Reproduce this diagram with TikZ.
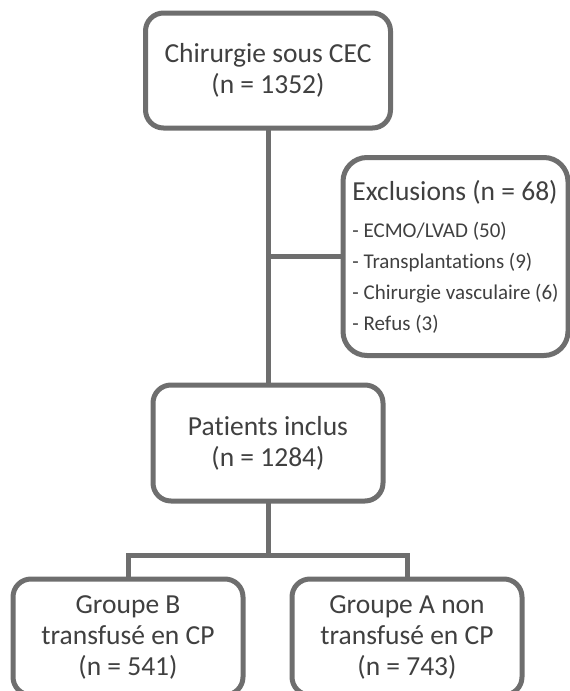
\documentclass[tikz,border=0pt]{standalone}
\usepackage{fontspec}
\setmainfont[Ligatures=NoCommon]{Carlito}
\usepackage{tikz}
\usetikzlibrary{calc,positioning}
\definecolor{bordgris}{HTML}{6E6E6E}
\definecolor{textgris}{HTML}{404040}

\begin{document}
\begin{tikzpicture}[every node/.style={font=\fontsize{27.5}{31}\selectfont,text=textgris}]
  \tikzset{box/.style={draw=bordgris,line width=5pt,rounded corners=18pt,fill=white,
                       outer sep=0pt,align=center,minimum width=230pt,minimum height=116pt},
           exbox/.style={box,rounded corners=24pt,align=left,minimum width=225pt,minimum height=198pt},
           link/.style={draw=bordgris,line width=5pt}}
  \useasboundingbox (0,0) rectangle (570pt,-691pt);
  \node[box,minimum width=245pt,minimum height=115pt] (cec) at (268pt,-70.5pt) {Chirurgie sous CEC\\(n = 1352)};
  \node[box,below=257pt of cec] (incl) {Patients inclus\\(n = 1284)};
  \coordinate (br) at ($(cec.south)!0.5!(incl.north)$);
  \node[exbox,right=75pt of br] (excl) {{\fontsize{27.5}{30}\selectfont Exclusions (n = 68)}\\[6pt]
    \fontsize{21}{32}\selectfont - ECMO/LVAD (50)\\
    \fontsize{21}{32}\selectfont - Transplantations (9)\\
    \fontsize{21}{32}\selectfont - Chirurgie vasculaire (6)\\
    \fontsize{21}{32}\selectfont - Refus (3)};
  \node[box,below=78pt of incl,xshift=-140pt] (grpB) {Groupe B\\transfusé en CP\\(n = 541)};
  \node[box,below=78pt of incl,xshift=139pt] (grpA) {Groupe A non\\transfusé en CP\\(n = 743)};
  \coordinate (sp) at ($(incl.south)+(0,-54pt)$);
  \draw[link] (cec) -- (incl);
  \draw[link] (br) -- (excl);
  \draw[link] (incl) -- (sp);
  \draw[link] (grpB.north) |- (sp) -| (grpA.north);
\end{tikzpicture}
\end{document}
